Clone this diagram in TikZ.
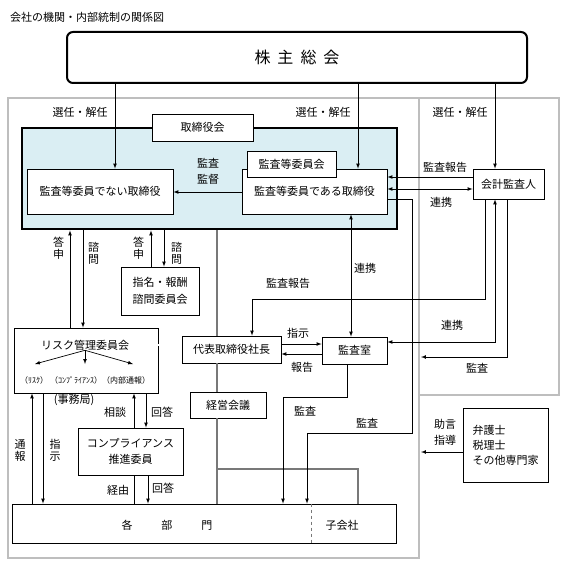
\documentclass[tikz,border=0pt]{standalone}
\usepackage{fontspec}
\setmainfont{Noto Sans CJK JP}
\usetikzlibrary{arrows}
\definecolor{board_blue}{RGB}{218, 238, 243}
\definecolor{frame_gray}{RGB}{190, 190, 190}
\definecolor{bus_gray}{RGB}{120, 120, 120}
\tikzstyle{bx}=[rectangle,draw=black,fill=white,line width=0.8pt,
  inner sep=0pt,align=center]
\tikzstyle{none}=[inner sep=0pt,align=center]
\tikzstyle{vt}=[inner sep=0pt,align=center,font=\fontsize{11}{12}\selectfont]
\tikzstyle{sm}=[inner sep=0pt,font=\fontsize{8}{9}\selectfont]
\tikzstyle{ar}=[->,>=latex,line width=0.7pt]
\tikzstyle{bus}=[draw=bus_gray,line width=1.8pt]

\begin{document}
\begin{tikzpicture}[x=1pt,y=-1pt,font=\fontsize{11}{16}\selectfont]
            \useasboundingbox (0,0) rectangle (567,567);
            \draw [frame_gray,line width=1.2pt] (8,98) -- (559,98) -- (559,395) -- (419,395) -- (419,558) -- (8,558) -- cycle;
            \draw [frame_gray,line width=1.2pt] (419,98) -- (419,395);
            \node [style=none,anchor=west] (t) at (10,17) {会社の機関・内部統制の関係図};
            \node [style=bx,rounded corners=6pt,line width=2pt,minimum width=460,minimum height=51,font=\fontsize{16}{20}\selectfont] (0) at (297,57.5) {株\hspace{7pt}主\hspace{7pt}総\hspace{7pt}会};
            \node [style=bx,fill=board_blue,line width=2.8pt,minimum width=375,minimum height=101] (1) at (209.5,178.5) {};
            \node [style=bx,minimum width=101,minimum height=27] (2) at (202.5,127.5) {取締役会};
            \node [style=bx,minimum width=146,minimum height=45] (3) at (100,191.5) {監査等委員でない取締役};
            \node [style=bx,minimum width=145,minimum height=45] (4) at (314.5,191.5) {監査等委員である取締役};
            \node [style=bx,minimum width=89,minimum height=26] (5) at (291.5,164) {監査等委員会};
            \node [style=bx,minimum width=71,minimum height=30] (6) at (508.5,184) {会計監査人};
            \node [style=bx,minimum width=78,minimum height=48,font=\fontsize{11}{17}\selectfont] (7) at (160,291) {指名・報酬\\諮問委員会};
            \node [style=bx,minimum width=144,minimum height=65] (8) at (86,360.5) {};
            \node [style=none] (9) at (85,345) {リスク管理委員会};
            \node [style=sm] (10) at (34,380) {（ﾘｽｸ）};
            \node [style=sm] (11) at (76,380) {（ｺﾝﾌﾟﾗｲｱﾝｽ）};
            \node [style=sm] (12) at (126,380) {（内部通報）};
            \node [style=bx,minimum width=99,minimum height=27] (13) at (231.5,349.5) {代表取締役社長};
            \node [style=bx,minimum width=65,minimum height=27] (14) at (354.5,350.5) {監査室};
            \node [style=bx,minimum width=76,minimum height=26] (15) at (228,405) {経営会議};
            \node [style=bx,minimum width=105,minimum height=47] (16) at (130.5,451.5) {コンプライアンス\\推進委員};
            \node [style=bx,minimum width=384,minimum height=39] (17) at (204,523.5) {};
            \node [style=none] (18) at (167,525) {各\hspace{29pt}部\hspace{29pt}門};
            \node [style=none] (19) at (342,525) {子会社};
            \node [style=bx,minimum width=85,minimum height=74,font=\fontsize{11}{15}\selectfont,align=left] (20) at (505.5,445) {弁護士\\税理士\\その他専門家};
            \node [style=none] (21) at (80,112) {選任・解任};
            \node [style=none] (22) at (323,112) {選任・解任};
            \node [style=none] (23) at (460,112) {選任・解任};
            \node [style=none] (24) at (208,171) {監査\\監督};
            \node [style=none] (25) at (445,167) {監査報告};
            \node [style=none] (26) at (441,202) {連携};
            \node [style=vt] (27) at (58.5,248) {答\\申};
            \node [style=vt] (28) at (93.5,253) {諮\\問};
            \node [style=vt] (29) at (138.5,248) {答\\申};
            \node [style=vt] (30) at (176.5,253) {諮\\問};
            \node [style=none] (31) at (365,268) {連携};
            \node [style=none] (32) at (288,283) {監査報告};
            \node [style=none] (33) at (298,333) {指示};
            \node [style=none] (34) at (302,367) {報告};
            \node [style=none] (35) at (452,325) {連携};
            \node [style=none] (36) at (477,368) {監査};
            \node [style=none] (37) at (74,400) {(事務局)};
            \node [style=none] (38) at (115,412) {相談};
            \node [style=none] (39) at (162,412) {回答};
            \node [style=vt] (40) at (20,450) {通\\報};
            \node [style=vt] (41) at (55,450) {指\\示};
            \node [style=none] (42) at (118,490) {経由};
            \node [style=none] (43) at (163,488) {回答};
            \node [style=none] (44) at (305,411) {監査};
            \node [style=none] (45) at (367,423) {監査};
            \node [style=none] (46) at (445,432) {助言\\指導};
            \coordinate (47) at (421,357);
            \coordinate (48) at (421,452);
            \coordinate (49) at (35,364);
            \coordinate (50) at (85,364);
            \coordinate (51) at (133,364);
            \draw [style=ar] (115,0 |- 0.south) to (115,0 |- 3.north);
            \draw [style=ar] (358,0 |- 0.south) to (358,0 |- 4.north);
            \draw [style=ar] (495,0 |- 0.south) to (495,0 |- 6.north);
            \draw [style=ar] (4.west |- 0,192) to (3.east |- 0,192);
            \draw [style=ar] (6.west |- 0,177) to (4.east |- 0,177);
            \draw [style=ar,<->] (4.east |- 0,189) to (6.west |- 0,189);
            \draw [style=ar,<->] (351,0 |- 4.south) to (351,0 |- 14.north);
            \draw [style=ar] (485,0 |- 6.south) |- (252,299) -- (252,0 |- 13.north);
            \draw [style=ar,<->] (14.east |- 0,342) -| (495,0 |- 6.south);
            \draw [style=ar] (507,0 |- 6.south) |- (47);
            \draw [style=ar] (13.east |- 0,344) to (14.west |- 0,344);
            \draw [style=ar] (14.west |- 0,354) to (13.east |- 0,354);
            \draw [style=ar] (70,0 |- 8.north) to (70,0 |- 1.south);
            \draw [style=ar] (83,0 |- 1.south) to (83,0 |- 8.north);
            \draw [style=ar] (151,0 |- 7.north) to (151,0 |- 1.south);
            \draw [style=ar] (164,0 |- 1.south) to (164,0 |- 7.north);
            \draw [style=bus] (217,0 |- 1.south) to (217,0 |- 13.north);
            \draw [style=bus] (217,0 |- 13.south) to (217,0 |- 15.north);
            \draw [style=bus] (217,0 |- 15.south) to (217,0 |- 17.north);
            \draw [style=bus] (217,469) -| (358,0 |- 17.north);
            \draw [draw=bus_gray,line width=0.8pt,double=white,double distance=1.2pt] (8.east |- 0,345) to (13.west |- 0,345);
            \draw [style=ar] (9.south) to (49);
            \draw [style=ar] (9.south) to (50);
            \draw [style=ar] (9.south) to (51);
            \draw [style=ar] (32,0 |- 17.north) to (32,0 |- 8.south);
            \draw [style=ar] (43,0 |- 8.south) to (43,0 |- 17.north);
            \draw [style=ar] (134,0 |- 16.north) to (134,0 |- 8.south);
            \draw [style=ar] (146,0 |- 8.south) to (146,0 |- 16.north);
            \draw [line width=0.7pt] (134,0 |- 16.south) to (134,0 |- 17.north);
            \draw [style=ar] (148,0 |- 16.south) to (148,0 |- 17.north);
            \draw [style=ar] (347,0 |- 14.south) |- (283,397) -- (283,0 |- 17.north);
            \draw [style=ar] (4.east |- 0,199) -| (412,433) -| (307,0 |- 17.north);
            \draw [style=ar] (20.west |- 0,452) to (48);
            \draw [dashed,line width=0.7pt,bus_gray] (311,0 |- 17.north) to (311,0 |- 17.south);
    \end{tikzpicture}
\end{document}
